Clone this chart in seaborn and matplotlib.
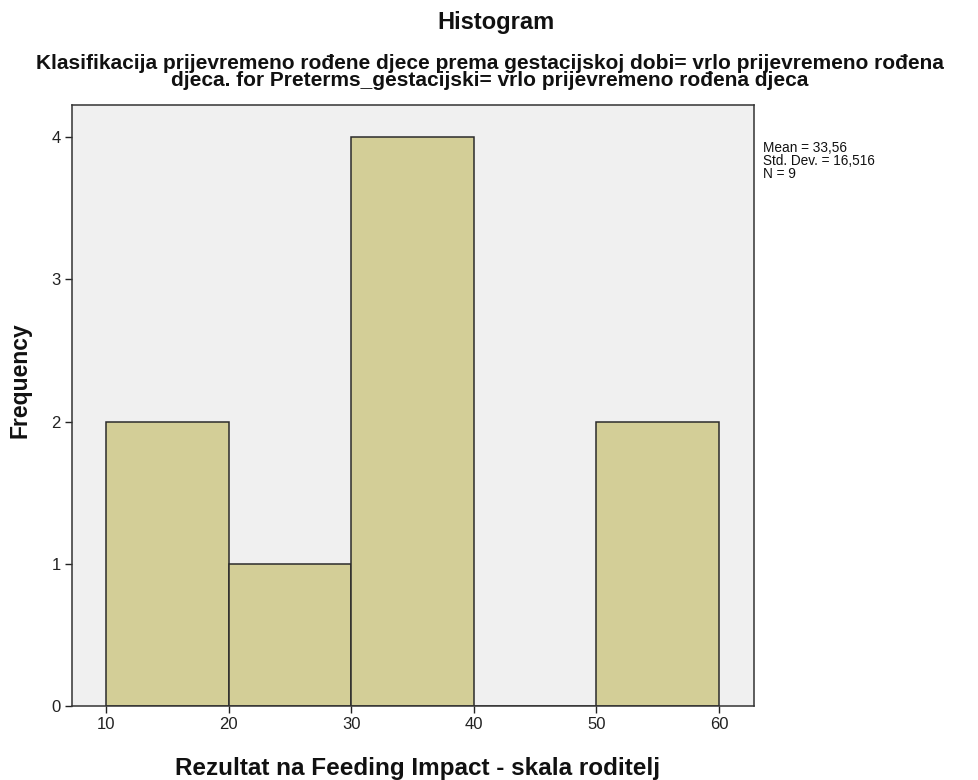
import numpy as np
import pandas as pd
import matplotlib
matplotlib.use("Agg")
import matplotlib.pyplot as plt
import seaborn as sns

# histogram bins
bin_edges = [10, 20, 30, 40, 50, 60]
bin_counts = [2, 1, 4, 0, 2]
y_ticks = [0, 1, 2, 3, 4]
x_ticks = [10, 20, 30, 40, 50, 60]

stats_text = "Mean = 33,56\nStd. Dev. = 16,516\nN = 9"
title = "Histogram"
subtitle = ("Klasifikacija prijevremeno rođene djece prema gestacijskoj dobi= vrlo prijevremeno rođena\n"
            "djeca. for Preterms_gestacijski= vrlo prijevremeno rođena djeca")
x_label = "Rezultat na Feeding Impact - skala roditelj"
y_label = "Frequency"

sns.set_theme(style="ticks")
plt.rcParams["font.family"] = ["Liberation Sans", "DejaVu Sans"]

bin_mids = [(a + b) / 2 for a, b in zip(bin_edges[:-1], bin_edges[1:])]
df = pd.DataFrame({"value": bin_mids, "count": bin_counts})

fig = plt.figure(figsize=(9.79, 7.8), dpi=100)
ax = fig.add_axes([72 / 979, 1 - 706 / 780, (754 - 72) / 979, (706 - 105) / 780])
ax.set_facecolor("#F0F0F0")

sns.histplot(data=df, x="value", weights="count", bins=bin_edges, ax=ax,
             color="#D3CE97", alpha=1, edgecolor="#2B2B2B", linewidth=1.1)

ax.set_xlim(10 - (106 - 72) / 12.26, 60 + (754 - 719) / 12.26)
ax.set_ylim(0, 4 + (137 - 105) / 142.25)
ax.set_xticks(x_ticks)
ax.set_yticks(y_ticks)
ax.tick_params(axis="both", direction="out", length=5, width=1, labelsize=12,
               colors="#222222", pad=3)
for s in ax.spines.values():
    s.set_color("#333333")
    s.set_linewidth(1.1)

ax.set_xlabel("")
ax.set_ylabel("")
fig.text(418 / 979, 1 - 768 / 780, x_label, ha="center", va="center",
         fontsize=17.5, fontweight="bold", color="#111111")
fig.text(20 / 979, 1 - 380 / 780, y_label, ha="center", va="center", rotation=90,
         fontsize=16.5, fontweight="bold", color="#111111")

fig.text(496 / 979, 1 - 22 / 780, title, ha="center", va="center", fontsize=17,
         fontweight="bold", color="#111111")
fig.text(490 / 979, 1 - 72 / 780, subtitle, ha="center", va="center", fontsize=15,
         fontweight="bold", linespacing=0.92, color="#111111")
fig.text(763 / 979, 1 - 141 / 780, stats_text, ha="left", va="top", fontsize=9.8,
         linespacing=0.92, color="#111111")

fig.savefig("out.png", dpi=100)
